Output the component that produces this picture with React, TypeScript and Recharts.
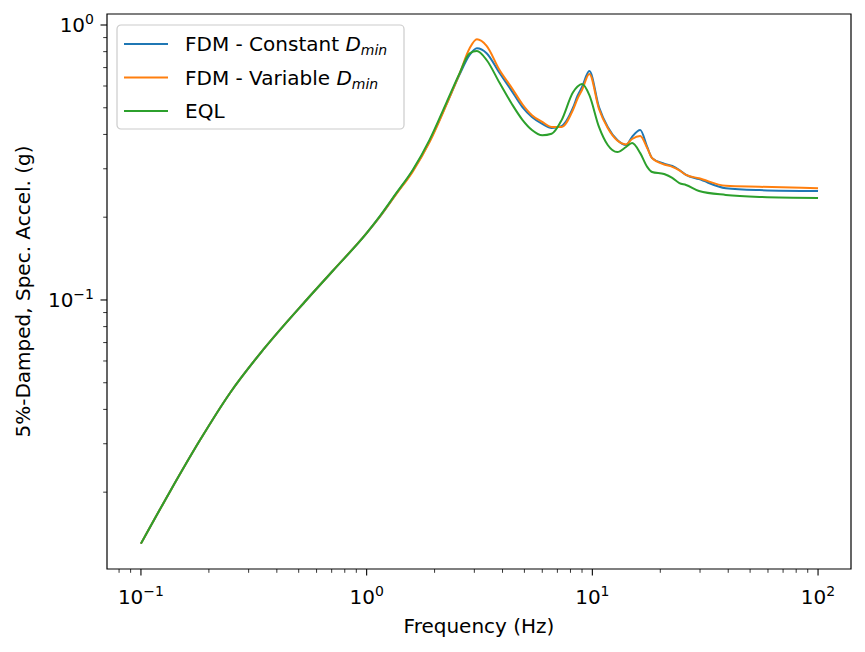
import React from "react";
import { LineChart, Line, XAxis, YAxis, ReferenceArea } from "recharts";

// frequencies (Hz)
const freq = [
  0.1, 0.134, 0.183, 0.2477, 0.3475, 0.541, 0.707, 1.0, 1.14, 1.35, 1.6, 1.9, 2.25,
  2.58, 2.86, 3.08, 3.4, 3.88, 4.4, 4.9, 5.4, 6.0, 6.6, 7.3, 8.2, 8.6, 9.0, 9.7, 10.7,
  11.7, 12.9, 14.1, 15.0, 16.3, 17.5, 18.4, 20.8, 22.6, 24.3, 26, 29.7, 39, 55, 100,
];

// spectral acceleration (g)
const fdmConstant = [
  0.013, 0.02, 0.031, 0.0458, 0.0658, 0.1, 0.1275, 0.175, 0.2, 0.243, 0.295, 0.378,
  0.512, 0.66, 0.778, 0.823, 0.79, 0.669, 0.575, 0.503, 0.463, 0.437, 0.422, 0.429,
  0.499, 0.553, 0.595, 0.68, 0.503, 0.426, 0.382, 0.366, 0.392, 0.415, 0.36, 0.328,
  0.313, 0.307, 0.297, 0.285, 0.275, 0.255, 0.251, 0.249,
];
const fdmVariable = [
  0.013, 0.02, 0.031, 0.0458, 0.0658, 0.1, 0.1275, 0.175, 0.2, 0.242, 0.293, 0.375,
  0.51, 0.665, 0.823, 0.887, 0.84, 0.686, 0.59, 0.515, 0.47, 0.444, 0.426, 0.426,
  0.49, 0.54, 0.58, 0.663, 0.495, 0.422, 0.38, 0.368, 0.385, 0.395, 0.357, 0.328,
  0.311, 0.305, 0.296, 0.285, 0.277, 0.26, 0.258, 0.255,
];
const eql = [
  0.013, 0.02, 0.031, 0.0458, 0.0658, 0.1, 0.1275, 0.175, 0.201, 0.244, 0.297, 0.382,
  0.519, 0.667, 0.789, 0.804, 0.746, 0.616, 0.516, 0.452, 0.415, 0.397, 0.402, 0.45,
  0.568, 0.597, 0.61, 0.556, 0.426, 0.366, 0.345, 0.36, 0.372, 0.342, 0.305, 0.292,
  0.287, 0.278, 0.266, 0.262, 0.249, 0.241, 0.237, 0.235,
];

const xTicks = [
  0.08, 0.09, 0.1, 0.2, 0.3, 0.4, 0.5, 0.6, 0.7, 0.8, 0.9, 1, 2, 3, 4, 5, 6, 7, 8, 9,
  10, 20, 30, 40, 50, 60, 70, 80, 90, 100,
];
const yTicks = [
  0.02, 0.03, 0.04, 0.05, 0.06, 0.07, 0.08, 0.09, 0.1, 0.2, 0.3, 0.4, 0.5, 0.6, 0.7,
  0.8, 0.9, 1,
];

const X_DOMAIN = [0.07073, 139.96];
const Y_DOMAIN = [0.01051, 1.0965];

const series = [
  { key: "fdmConstant", color: "#1f77b4", label: "FDM - Constant ", math: true },
  { key: "fdmVariable", color: "#ff7f0e", label: "FDM - Variable ", math: true },
  { key: "eql", color: "#2ca02c", label: "EQL", math: false },
];

const data = freq.map((f, i) => ({
  f,
  fdmConstant: fdmConstant[i],
  fdmVariable: fdmVariable[i],
  eql: eql[i],
}));

const FONT = "'DejaVu Sans', sans-serif";
const FS = 20;
const FS_SUB = 14;

function expOf(v: number) {
  const l = Math.log10(v);
  const e = Math.round(l);
  return { e, major: Math.abs(l - e) < 1e-6 };
}

const expText = (e: number) => (e < 0 ? `\u2212${-e}` : `${e}`);

const XTick = ({ x, y, payload }: any) => {
  const { e, major } = expOf(payload.value);
  return (
    <g>
      <line x1={x} x2={x} y1={y} y2={y + (major ? 6.5 : 3.8)} stroke="#000" strokeWidth={major ? 1.1 : 0.8} />
      {major && (
        <text x={x} y={y + 35} textAnchor="middle" fontSize={FS} fill="#000" fontFamily={FONT}>
          <tspan>10</tspan>
          <tspan dy={-8} fontSize={FS_SUB}>{expText(e)}</tspan>
        </text>
      )}
    </g>
  );
};

const YTick = ({ x, y, payload }: any) => {
  const { e, major } = expOf(payload.value);
  return (
    <g>
      <line x1={x} x2={x - (major ? 6.5 : 3.8)} y1={y} y2={y} stroke="#000" strokeWidth={major ? 1.1 : 0.8} />
      {major && (
        <text x={x - 13} y={y + 7} textAnchor="end" fontSize={FS} fill="#000" fontFamily={FONT}>
          <tspan>10</tspan>
          <tspan dy={-8} fontSize={FS_SUB}>{expText(e)}</tspan>
        </text>
      )}
    </g>
  );
};

function Legend() {
  return (
    <svg
      width={290}
      height={106}
      style={{ position: "absolute", left: 116, top: 24, overflow: "visible" }}
    >
      <rect x={1} y={1} width={287} height={104} rx={4} fill="rgba(255,255,255,0.8)" stroke="#cccccc" strokeWidth={1.2} />
      {series.map((s, i) => (
        <g key={s.key}>
          <line x1={8} x2={52} y1={20 + i * 33.5} y2={20 + i * 33.5} stroke={s.color} strokeWidth={2} />
          <text x={69} y={27 + i * 33.5} fontSize={FS} fill="#000" fontFamily={FONT}>
            <tspan>{s.label}</tspan>
            {s.math && (
              <>
                <tspan fontStyle="italic">D</tspan>
                <tspan fontStyle="italic" fontSize={FS_SUB} dy={4}>min</tspan>
              </>
            )}
          </text>
        </g>
      ))}
    </svg>
  );
}

export default function App() {
  return (
    <div style={{ position: "absolute", left: 0, top: 0, width: 865, height: 652, background: "#fff", fontFamily: FONT }}>
      <LineChart width={865} height={652} data={data} margin={{ top: 14, right: 14, bottom: 23, left: 0 }}>
        <XAxis
          dataKey="f"
          type="number"
          scale="log"
          domain={X_DOMAIN}
          allowDataOverflow
          ticks={xTicks}
          interval={0}
          tick={<XTick />}
          tickSize={0}
          tickMargin={0}
          axisLine={false}
          tickLine={false}
          height={60}
          label={(p: any) => {
            const vb = p.viewBox;
            return (
              <text x={vb.x + vb.width / 2} y={vb.y + 64} textAnchor="middle" fontSize={FS} fill="#000" fontFamily={FONT}>
                Frequency (Hz)
              </text>
            );
          }}
        />
        <YAxis
          type="number"
          scale="log"
          domain={Y_DOMAIN}
          allowDataOverflow
          ticks={yTicks}
          interval={0}
          tick={<YTick />}
          tickSize={0}
          tickMargin={0}
          axisLine={false}
          tickLine={false}
          width={107}
          label={(p: any) => {
            const vb = p.viewBox;
            const cy = vb.y + vb.height / 2;
            return (
              <text x={30} y={cy} transform={`rotate(-90, 30, ${cy})`} textAnchor="middle" fontSize={FS} fill="#000" fontFamily={FONT}>
                5%-Damped, Spec. Accel. (g)
              </text>
            );
          }}
        />
        {series.map((s) => (
          <Line
            key={s.key}
            dataKey={s.key}
            type="monotone"
            stroke={s.color}
            strokeWidth={2}
            dot={false}
            activeDot={false}
            isAnimationActive={false}
          />
        ))}
        <ReferenceArea
          x1={X_DOMAIN[0]}
          x2={X_DOMAIN[1]}
          y1={Y_DOMAIN[0]}
          y2={Y_DOMAIN[1]}
          fill="none"
          stroke="#000"
          strokeWidth={1.2}
          ifOverflow="visible"
        />
      </LineChart>
      <Legend />
    </div>
  );
}
